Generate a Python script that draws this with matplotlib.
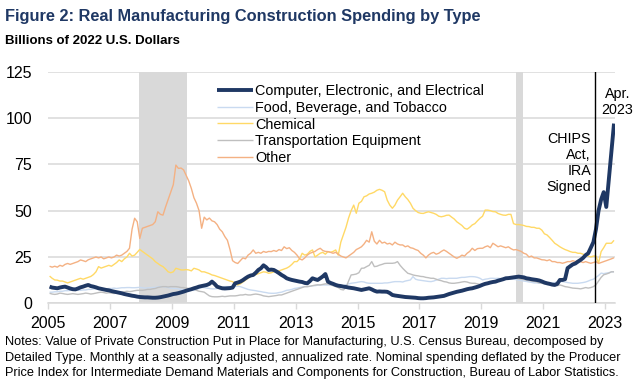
import matplotlib
matplotlib.use("Agg")
import matplotlib.pyplot as plt
import numpy as np
from matplotlib import font_manager as fm

# ---------------- data (monthly, Jan 2005 - Apr 2023, billions of 2022 $) -------------
computer = [
    9, 8.5, 8.3, 8.1, 8.5, 8.8, 9, 8.5, 8, 7.6, 7.5, 8,                     # 2005
    8.6, 9, 9.5, 9.9, 9.3, 9, 8.6, 8.1, 7.8, 7.5, 7.2, 7,                   # 2006
    6.6, 6.3, 6, 5.7, 5.4, 5, 4.7, 4.4, 4.1, 3.9, 3.6, 3.4,                 # 2007
    3.3, 3.2, 3.2, 3.1, 3.0, 3.0, 3.1, 3.3, 3.6, 3.9, 4.2, 4.6,             # 2008
    5.0, 5.2, 5.5, 5.9, 6.3, 6.8, 7.2, 7.6, 8.1, 8.5, 9, 9.3,               # 2009
    9.6, 9.9, 10.5, 11.7, 10.5, 9, 8.5, 8.1, 8, 8.1, 8.2, 8.5,              # 2010
    10.8, 11.2, 11.7, 12.5, 13.5, 14.4, 15, 15.3, 16.5, 18, 18.9, 20.5,     # 2011
    19.5, 18, 18.2, 18, 17.2, 16.3, 15.3, 14.5, 13.5, 13.0, 12.6, 12.3,     # 2012
    12, 11.7, 11.5, 11, 10.8, 12, 13.5, 13, 12.6, 13.5, 14.5, 15.8,         # 2013
    11.7, 11, 10.5, 9.9, 9.5, 9.3, 9, 8.8, 8.5, 8.3, 8.1, 7.8,              # 2014
    7.5, 7.2, 7.5, 7.8, 8.1, 7.5, 6.8, 6.3, 6.4, 6.3, 6.3, 6.2,             # 2015
    5.5, 4.5, 4.2, 4.0, 3.8, 3.6, 3.4, 3.3, 3.2, 3.1, 3.0, 2.8,             # 2016
    2.7, 2.7, 2.8, 3.0, 3.1, 3.2, 3.4, 3.6, 3.8, 4.0, 4.5, 5.0,             # 2017
    5.4, 5.8, 6.2, 6.5, 6.8, 7.2, 7.6, 7.9, 8.1, 8.5, 8.9, 9.4,             # 2018
    10, 10.5, 10.8, 11.2, 11.5, 11.7, 12.2, 12.6, 13, 13.5, 13.6, 13.8,     # 2019
    14, 14.2, 14.4, 14.2, 14, 13.5, 13.3, 13.0, 12.8, 12.6, 12.3, 11.8,     # 2020
    11.2, 10.8, 10.5, 10.1, 9.9, 10.5, 12.6, 12.6, 13, 19, 20, 21,          # 2021
    21.5, 22.5, 23.4, 24.5, 26, 27, 30, 33, 40, 50, 56, 60,                 # 2022
    52, 67, 82, 97,                                                         # 2023
]
food = [
    6, 6, 6.2, 6.2, 6.5, 6.5, 6.8, 6.8, 7, 7, 7.2, 7,
    7, 7.2, 7.2, 7.5, 7.5, 7.8, 7.8, 8, 8, 7.8, 7.8, 8,
    8, 8.2, 8, 8.2, 8.4, 8.4, 8.5, 8.5, 8.4, 8.4, 8.5, 8.6,
    8.4, 8.2, 8.3, 8.4, 8.5, 8.6, 8.8, 9, 9, 8.8, 8.5, 8.2,
    8, 8, 7.8, 7.5, 7.5, 7.2, 7.2, 7, 7, 7.5, 8, 8.5,
    8.5, 8.2, 8, 7.8, 7.8, 8, 8.1, 8.5, 9, 9, 9, 9,
    9, 9.2, 9, 8.5, 8, 7.5, 7.2, 7, 6.8, 6.5, 6.3, 6,
    5.8, 5.5, 5.4, 5.4, 5.5, 5.8, 6, 6.5, 7, 7.2, 7.5, 8,
    8.2, 8.5, 8.8, 9, 9, 9.2, 9.5, 9.5, 9.8, 9.9, 9.9, 9.9,
    9.9, 9.9, 9.9, 9.8, 9.5, 9, 9.5, 10, 10.5, 10.8, 11, 11.2,
    11.5, 11.7, 11.5, 11, 10.8, 10.8, 10.8, 10.8, 10.8, 10.8, 11, 11,
    11.2, 11.5, 11.7, 11.7, 11.7, 11.5, 12, 12.3, 12.6, 14.4, 13, 12.6,
    12.4, 12.2, 12, 11.8, 11.7, 12, 12.5, 13, 13.5, 13.5, 13.3, 13.5,
    13.5, 13.5, 13.5, 13.8, 14, 14, 14.2, 14.4, 14.4, 14.3, 14, 13.5,
    12.6, 13, 13.2, 13.5, 13.5, 13.4, 13.5, 13.3, 13.2, 13, 13, 13,
    13, 12.8, 12.5, 12.3, 12, 11.8, 11.5, 11.3, 11, 11, 10.8, 10.8,
    10.8, 10.8, 11, 11, 11.2, 11.5, 11.7, 11.7, 11.5, 11.2, 11, 10.8,
    10.8, 10.8, 11, 11.2, 11.5, 12, 12.6, 13, 14, 15, 16.3, 16,
    16.3, 16.5, 17, 17,
]
chemical = [
    14.7, 13.5, 12.6, 12.5, 12, 12, 11.5, 11, 11.5, 12, 12.5, 13,
    13.5, 13, 13.5, 14, 14.5, 15.5, 17, 19.8, 19, 19.5, 20, 20.5,
    20, 21, 22, 23.4, 22.5, 24, 25, 27, 25.5, 26, 27.5, 29.1,
    28, 27, 26, 25, 24, 22.5, 21.5, 20.5, 19.8, 18.5, 17, 16.5,
    17, 18.9, 18.5, 18, 18, 18.2, 18, 17.5, 18.9, 18.5, 18, 17,
    17, 16.5, 16, 15.3, 15, 14.5, 14, 13.5, 13, 12.5, 12, 11.7,
    10.5, 9.9, 10.5, 11.5, 12.5, 13.5, 14.4, 15, 15.5, 16, 16.5, 17,
    16.8, 16.2, 16.5, 17, 17.5, 17.5, 18, 18.5, 19, 19.8, 21, 22.5,
    22.5, 24, 27, 26, 26.5, 28, 28.8, 25, 26, 27, 27.5, 26.5,
    27.9, 27.5, 28, 28.8, 26, 33, 37, 41, 46, 50, 53, 48.6,
    54, 55, 57.5, 58, 59, 59.4, 60, 61, 61.5, 61, 60.2, 55.7,
    53, 51.3, 53, 55.7, 57.5, 59.4, 57.5, 56, 54, 51.3, 50, 49,
    48.6, 48.5, 49, 49.4, 49, 48.6, 48, 47, 46.7, 47, 47.5, 47.6,
    46.5, 45.5, 44, 43, 42, 40.5, 40, 41, 42.3, 43, 44.5, 45.9,
    47, 50.3, 50.3, 50, 49.5, 49.4, 48.5, 48, 47.6, 47.5, 48, 48,
    43, 42.5, 42.5, 42.3, 42, 41.5, 41.4, 41, 41, 40.5, 40.5, 39.5,
    37.5, 36.9, 35.5, 34, 32.4, 31.5, 30.5, 29.7, 29, 28.5, 27.9, 27.5,
    27.5, 27, 27, 26.5, 26, 25.5, 25, 25.5, 25.5, 21.6, 27.9, 30,
    32.4, 32.4, 32.4, 34,
]
transport = [
    5.4, 5, 4.8, 5, 5.5, 5.3, 5, 4.8, 5, 5.2, 5, 4.8,
    5, 5.2, 5.5, 5.3, 5, 5.2, 5.5, 5.8, 6, 5.8, 5.5, 5.7,
    5.5, 5.3, 5.5, 5.8, 6, 6.2, 6.5, 6.3, 6.5, 6.8, 7, 7,
    7, 7.2, 7.5, 7.5, 7.8, 8, 8.5, 8.8, 9, 9, 8.8, 9,
    9, 9, 8.8, 8.5, 8.5, 8.2, 8, 7.8, 7.5, 7, 6.5, 6.3,
    6, 5, 4, 3.6, 3.5, 3.5, 3.6, 3.8, 3.6, 3.8, 4, 4,
    4, 4.2, 4.5, 4.5, 4.8, 4.5, 4.5, 4.8, 5, 4.8, 4.5, 4,
    3.8, 3.6, 3.8, 4, 4.2, 4.5, 4.5, 5, 5.5, 6, 6.5, 7,
    7.5, 8, 8.5, 9, 9, 9.2, 9.5, 9.8, 10, 9.9, 10.2, 10.5,
    10.5, 10, 9.5, 9, 8.5, 7.5, 7.2, 8.5, 12, 15.3, 15.5, 15.8,
    16.5, 18.9, 19, 19.8, 20.5, 22.5, 19.8, 20, 20.6, 21, 21.5, 21.6,
    21.6, 21.6, 21.8, 22.5, 20.5, 18.9, 17.5, 16.2, 15.8, 15.3, 15, 14.8,
    14.5, 14.4, 14, 13.8, 13.5, 13.5, 13, 12.5, 12.2, 11.7, 11.5, 11,
    10.8, 10.8, 11, 11.2, 11.5, 11.7, 11.5, 11, 10.8, 10.8, 10.5, 10.2,
    9.9, 10, 10.5, 11, 11.5, 12, 12.5, 12.6, 12.8, 13, 13, 13.2,
    13.5, 13.5, 13.2, 13, 12.8, 12.5, 12.2, 12, 11.8, 11.5, 11, 10.8,
    10.5, 10.2, 10, 10, 9.9, 9.5, 9.9, 9.5, 9, 8.8, 8.5, 8.2,
    8.1, 8, 7.8, 8.1, 8.5, 8.2, 8.5, 9, 10, 12, 14, 15.4,
    15.8, 16.3, 17, 17,
]
other = [
    20, 19.5, 20, 19.5, 20.5, 20, 21, 21.5, 21, 21.5, 22, 22.5,
    23.4, 23, 22.5, 23.5, 24, 24.5, 25, 24.5, 25, 24, 24.5, 25,
    24.5, 25, 26, 25.5, 26, 27, 28, 29.7, 40, 45.9, 44, 35,
    40.5, 41, 41.5, 42, 42.5, 44, 49.4, 48, 47.6, 52, 56, 60,
    64, 74.6, 72.8, 73, 72, 69, 66, 62, 57, 54, 50, 40.5,
    46.5, 45, 46, 44.5, 44, 42.5, 40, 38.6, 36, 34, 29, 23,
    22, 21.5, 23, 24.5, 24, 26, 27, 28.8, 27, 27.5, 27, 28,
    27.5, 28, 27.9, 28.5, 28, 29, 28.5, 30.5, 29.5, 30, 28.5, 27.5,
    26, 24, 23.4, 24.5, 26, 27, 27.5, 28, 29, 29.7, 28.5, 28,
    27.9, 27.5, 27, 27.5, 26.5, 25.5, 25, 24.5, 25.5, 26.5, 27.5, 29,
    29.7, 30.5, 32, 34, 33, 38.6, 33.5, 32, 34, 32.5, 33, 32,
    32.4, 31.5, 33, 32, 31.5, 31.5, 30.5, 31, 30, 29.7, 29, 28.5,
    27, 26, 24.5, 26, 27, 27.5, 26.5, 27, 28, 28.8, 28, 27,
    26, 25, 24.3, 25, 26, 25.5, 27, 28, 29.7, 28.5, 29.5, 29.7,
    29.7, 30.5, 31, 30, 32.4, 31.5, 30.5, 31, 30.5, 30, 30.5, 29.5,
    28.8, 29, 28.5, 28, 27, 26.5, 25, 25.5, 24.5, 24.5, 24, 23.5,
    23.4, 23, 23.5, 22.5, 22.5, 22, 22, 21.6, 22, 22.5, 22.5, 23,
    22.5, 23, 22.5, 22, 22.5, 22, 21.6, 22, 22.5, 21.5, 22, 22.5,
    23, 23.5, 24, 24.6,
]

series_labels = ["Computer, Electronic, and Electrical", "Food, Beverage, and Tobacco",
                 "Chemical", "Transportation Equipment", "Other"]
start_year = 2005
n_months = len(computer)
xticks_years = list(range(2005, 2024, 2))
yticks_vals = [0, 25, 50, 75, 100, 125]
recessions = [(2007 + 11 / 12, 2009 + 6 / 12), (2020 + 1.5 / 12, 2020 + 4 / 12)]
chips_date = 2022.675

title_txt = "Figure 2: Real Manufacturing Construction Spending by Type"
subtitle_txt = "Billions of 2022 U.S. Dollars"
notes_lines = [
    "Notes: Value of Private Construction Put in Place for Manufacturing, U.S. Census Bureau, decomposed by",
    "Detailed Type. Monthly at a seasonally adjusted, annualized rate. Nominal spending deflated by the Producer",
    "Price Index for Intermediate Demand Materials and Components for Construction, Bureau of Labor Statistics.",
]

# ---------------- style ----------------
names = {f.name for f in fm.fontManager.ttflist}
base_font = "Liberation Sans" if "Liberation Sans" in names else "DejaVu Sans"
narrow_font = "Liberation Sans Narrow" if "Liberation Sans Narrow" in names else base_font
plt.rcParams["font.family"] = [base_font, "DejaVu Sans"]

navy = "#1F3864"
colors = [navy, "#C9DAF0", "#FFD966", "#BFBFBF", "#F4B183"]
grid_c = "#D9D9D9"

W, H = 636, 380
fig = plt.figure(figsize=(W / 100, H / 100), dpi=100)
L, R, T, B = 48.3, 615.3, 71.7, 303.3
ax = fig.add_axes([L / W, 1 - B / H, (R - L) / W, (B - T) / H])

x = start_year + (np.arange(n_months) + 0.5) / 12.0

for a, b in recessions:
    ax.axvspan(a, b, color=grid_c, lw=0, zorder=0.5)

data = [computer, food, chemical, transport, other]
widths = [2.8, 1.0, 1.0, 1.0, 1.0]
handles = [None] * 5
for idx in [1, 3, 2, 4, 0]:
    (h,) = ax.plot(x, data[idx], color=colors[idx], lw=widths[idx],
                   zorder=3 if idx else 4, solid_capstyle="butt", solid_joinstyle="round")
    handles[idx] = h

ax.axvline(chips_date, color="black", lw=1.0, zorder=5)

ax.set_xlim(start_year, start_year + n_months / 12.0)
ax.set_ylim(0, 125)
ax.set_xticks(xticks_years)
ax.set_xticklabels([str(y) for y in xticks_years])
ax.set_yticks(yticks_vals)
ax.yaxis.grid(True, color=grid_c, lw=1.1, zorder=0)
ax.set_axisbelow(True)
for s in ["top", "right", "left"]:
    ax.spines[s].set_visible(False)
ax.spines["bottom"].set_color(grid_c)
ax.spines["bottom"].set_linewidth(1.1)
ax.spines["bottom"].set_zorder(1)
ax.tick_params(axis="x", direction="out", length=4, width=1.0, color=grid_c,
               labelsize=11.5, pad=5, labelcolor="black")
ax.tick_params(axis="y", length=0, labelsize=11.5, pad=11.5, labelcolor="black")

leg = ax.legend(handles, series_labels, loc="upper left", bbox_to_anchor=(0.2975, 0.948),
                frameon=False, fontsize=10.4, handlelength=2.5, handletextpad=0.15,
                labelspacing=0.2, borderpad=0, borderaxespad=0)

ax.text(2022.55, 92.5, "CHIPS\nAct,\nIRA\nSigned", ha="right", va="top",
        multialignment="right", fontsize=10.3, linespacing=1.18, zorder=6)
ax.text(2023.4, 116.8, "Apr.\n2023", ha="center", va="top", multialignment="center",
        fontsize=10.3, linespacing=1.18, clip_on=False, zorder=6)

# ---------------- header / footer text ----------------
renderer = fig.canvas.get_renderer()

def fit_text(xp, yp, s, target_w, fs, **kw):
    t = fig.text(xp / W, 1 - yp / H, s, fontsize=fs, **kw)
    w = t.get_window_extent(renderer).width
    t.set_fontsize(fs * target_w / w)
    return t

fit_text(5, 21, title_txt, 476, 13.5, family=narrow_font, weight="bold",
         color=navy, va="baseline", ha="left")
fit_text(5, 44, subtitle_txt, 176, 10.5, family=narrow_font, weight="bold",
         color="black", va="baseline", ha="left")
t2 = fit_text(5, 357.5, notes_lines[1], 614, 9.5, family=narrow_font,
              color="black", va="center", ha="left")
nfs = t2.get_fontsize()
fig.text(5 / W, 1 - 342 / H, notes_lines[0], fontsize=nfs, family=narrow_font,
         va="center", ha="left")
fig.text(5 / W, 1 - 373 / H, notes_lines[2], fontsize=nfs, family=narrow_font,
         va="center", ha="left")

fig.savefig("out.png", dpi=100)
